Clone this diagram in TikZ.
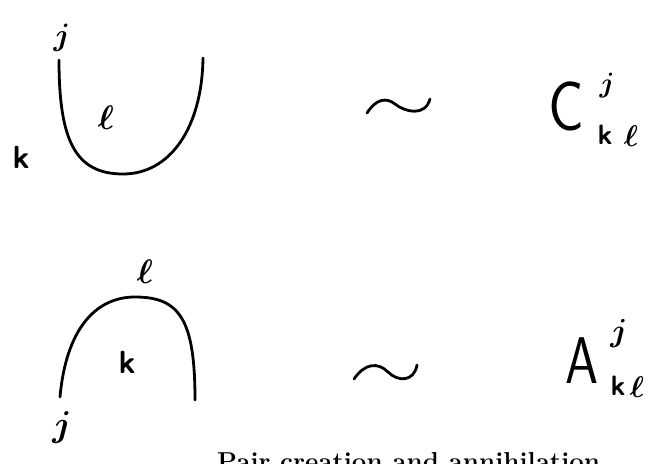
\RequirePackage{fix-cm}
\documentclass[tikz,border=0pt]{standalone}
\usepackage{fontspec}
\newfontfamily\thinsans{lmsans17-regular.otf}
\begin{document}
\begin{tikzpicture}[x=1pt,y=-1pt,
  stroke/.style={line width=2.8pt,line cap=round,line join=round},
  hand/.style={inner sep=0pt,outer sep=0pt,font=\boldmath\fontsize{#1}{#1}\selectfont},
  kk/.style={inner sep=0pt,outer sep=0pt,font=\sffamily\bfseries\fontsize{#1}{#1}\selectfont},
  big/.style={inner sep=0pt,outer sep=0pt,font=\thinsans\fontsize{#1}{#1}\selectfont},
  caption/.style={inner sep=0pt,anchor=base west,font=\bfseries\fontsize{25.9}{28}\selectfont}]
\useasboundingbox (0,0) rectangle (655,463);
\clip (0,0) rectangle (655,463);

% ---- upper figure: pair creation
\coordinate (uL) at (59,60);
\coordinate (uB) at (123,174);
\coordinate (uR) at (203,58);
\draw[stroke] (uL) .. controls (59,140) and (75,174) .. (uB)
              .. controls (170,174) and (202,128) .. (uR);
\node[hand=31] (j1) at (62,38) {$j$};
\node[hand=34] (l1) at (106,118) {$\ell$};
\node[kk=32] (k1) at (21,157) {k};

\coordinate (t1a) at (367,113);
\coordinate (t1b) at (395,104);
\coordinate (t1c) at (430,99);
\draw[stroke] (t1a) .. controls (376,99) and (386,97) .. (t1b)
              .. controls (405,112) and (425,117) .. (t1c);

\node[big=70,xscale=0.85] (C) at (566,106) {C};
\node[hand=28] (jC) at (607,86) {$j$};
\node[kk=28] (kC) at (605,135) {k};
\node[hand=30] (lC) at (631,136) {$\ell$};

% ---- lower figure: pair annihilation
\coordinate (aL) at (60,397);
\coordinate (aT) at (135,297);
\coordinate (aR) at (195,400);
\draw[stroke] (aL) .. controls (66,330) and (95,297) .. (aT)
              .. controls (180,297) and (195,320) .. (aR);
\node[hand=34] (l2) at (145,272) {$\ell$};
\node[kk=32] (k2) at (127,362) {k};
\node[hand=36] (j2) at (62,428) {$j$};

\coordinate (t2a) at (354,379);
\coordinate (t2b) at (388,372);
\coordinate (t2c) at (417,365);
\draw[stroke] (t2a) .. controls (365,363) and (378,362) .. (t2b)
              .. controls (398,382) and (414,382) .. (t2c);

\node[big=66,xscale=0.8] (A) at (582,361) {A};
\node[hand=32] (jA) at (619,334) {$j$};
\node[kk=28] (kA) at (618,386) {k};
\node[hand=30] (lA) at (637,387) {$\ell$};

% ---- caption (cut off at the lower edge, as in the reference)
\node[caption] (cap) at (217,470) {Pair creation and annihilation};
\end{tikzpicture}
\end{document}
